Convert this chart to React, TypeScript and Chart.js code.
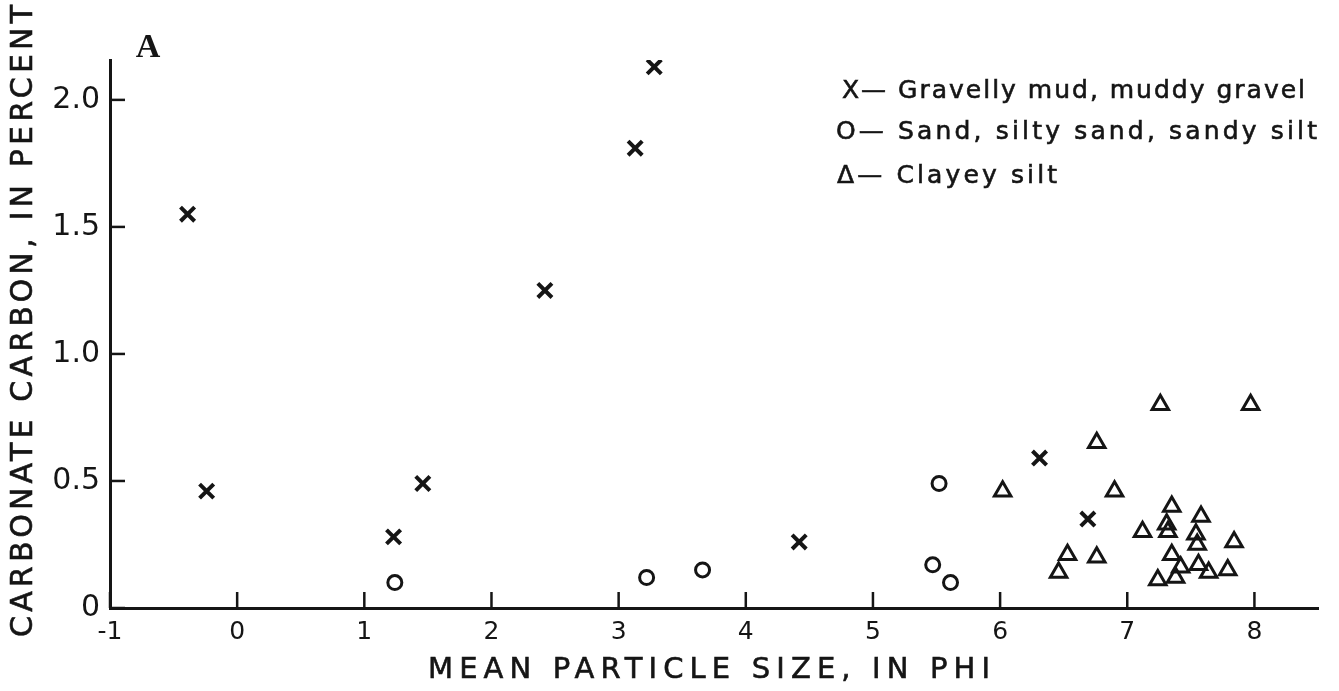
import React, { useEffect, useRef } from "react";
import { Chart, registerables } from "chart.js";

Chart.register(...registerables);

// ---- data ----
const gravelX = [-0.39, -0.24, 1.23, 1.46, 2.42, 3.13, 3.28, 4.42, 6.31, 6.69];
const gravelY = [1.55, 0.46, 0.28, 0.49, 1.25, 1.81, 2.13, 0.26, 0.59, 0.35];

const sandX = [1.24, 3.22, 3.66, 5.47, 5.52, 5.61];
const sandY = [0.1, 0.12, 0.15, 0.17, 0.49, 0.1];

const clayX = [
  7.26, 7.97, 6.76, 6.02, 6.9, 6.53, 6.46, 6.76, 7.12, 7.35, 7.31, 7.32,
  7.58, 7.54, 7.55, 7.84, 7.35, 7.42, 7.56, 7.64, 7.79, 7.24, 7.38,
];
const clayY = [
  0.8, 0.8, 0.65, 0.46, 0.46, 0.21, 0.14, 0.2, 0.3, 0.4, 0.33, 0.3, 0.36,
  0.29, 0.25, 0.26, 0.21, 0.16, 0.17, 0.14, 0.15, 0.11, 0.12,
];

const xTicks = [-1, 0, 1, 2, 3, 4, 5, 6, 7, 8];
const xTickLabels = ["-1", "0", "1", "2", "3", "4", "5", "6", "7", "8"];
const yTicks = [0, 0.5, 1, 1.5, 2];
const yTickLabels = ["0", "0.5", "1.0", "1.5", "2.0"];

const legendLabels = [
  "X\u2014 Gravelly mud, muddy gravel",
  "O\u2014 Sand, silty sand, sandy silt",
  "\u0394\u2014 Clayey silt",
];
const xTitle = "MEAN PARTICLE SIZE, IN PHI";
const yTitle = "CARBONATE CARBON, IN PERCENT";
const panelLabel = "A";

const INK = "#151515";

function fitText(ctx: CanvasRenderingContext2D, text: string, x: number, y: number, width: number) {
  (ctx as any).letterSpacing = "0px";
  const w = ctx.measureText(text).width;
  const ls = (width - w) / Math.max(1, text.length - 1);
  (ctx as any).letterSpacing = `${ls}px`;
  ctx.fillText(text, x, y);
  ctx.strokeText(text, x, y);
  (ctx as any).letterSpacing = "0px";
}

const decor = {
  id: "decor",
  afterDraw(chart: any) {
    const ctx: CanvasRenderingContext2D = chart.ctx;
    const xs = chart.scales.x;
    const ys = chart.scales.y;
    const { left, bottom } = chart.chartArea;
    ctx.save();
    ctx.strokeStyle = INK;
    ctx.lineWidth = 2.5;
    // inward tick marks
    xTicks.forEach((v) => {
      const px = xs.getPixelForValue(v);
      ctx.beginPath();
      ctx.moveTo(px, bottom);
      ctx.lineTo(px, bottom - 16);
      ctx.stroke();
    });
    yTicks.forEach((v) => {
      const py = ys.getPixelForValue(v);
      ctx.beginPath();
      ctx.moveTo(left, py);
      ctx.lineTo(left + 15, py);
      ctx.stroke();
    });

    ctx.fillStyle = INK;
    ctx.lineWidth = 0.6;
    ctx.textAlign = "left";
    ctx.textBaseline = "middle";

    // x axis title
    ctx.font = "29px 'DejaVu Sans'";
    fitText(ctx, xTitle, 428, 670, 562);

    // y axis title (rotated)
    ctx.save();
    ctx.translate(24, 637);
    ctx.rotate(-Math.PI / 2);
    ctx.font = "30px 'DejaVu Sans'";
    fitText(ctx, yTitle, 0, 0, 632);
    ctx.restore();

    // legend
    ctx.font = "25px 'DejaVu Sans'";
    fitText(ctx, legendLabels[0], 842, 91, 463);
    fitText(ctx, legendLabels[1], 836, 132, 481);
    fitText(ctx, legendLabels[2], 837, 176, 220);

    // panel letter
    ctx.font = "bold 34px 'Liberation Serif'";
    ctx.textAlign = "center";
    ctx.fillText(panelLabel, 148, 48);
    ctx.restore();
  },
};

export default function App() {
  const ref = useRef<HTMLCanvasElement | null>(null);

  useEffect(() => {
    document.body.style.margin = "0";
    const canvas = ref.current;
    if (!canvas) return;
    const chart = new Chart(canvas, {
      type: "scatter",
      data: {
        datasets: [
          {
            label: legendLabels[0],
            data: gravelX.map((x, i) => ({ x, y: gravelY[i] })),
            pointStyle: "crossRot",
            pointRadius: 10,
            borderWidth: 4,
            borderColor: INK,
            backgroundColor: INK,
          },
          {
            label: legendLabels[1],
            data: sandX.map((x, i) => ({ x, y: sandY[i] })),
            pointStyle: "circle",
            pointRadius: 7,
            borderWidth: 3,
            borderColor: INK,
            backgroundColor: "rgba(255,255,255,0)",
          },
          {
            label: legendLabels[2],
            data: clayX.map((x, i) => ({ x, y: clayY[i] })),
            pointStyle: "triangle",
            pointRadius: 9.5,
            borderWidth: 3,
            borderColor: INK,
            backgroundColor: "rgba(255,255,255,0)",
          },
        ],
      },
      options: {
        animation: false,
        responsive: false,
        events: [],
        layout: { padding: { left: 8, right: 21, top: 60, bottom: 0 } },
        plugins: {
          legend: { display: false },
          tooltip: { enabled: false },
          title: { display: false },
        },
        scales: {
          x: {
            type: "linear",
            min: -1,
            max: 8.5,
            afterBuildTicks: (s: any) => {
              s.ticks = xTicks.map((v) => ({ value: v }));
            },
            afterFit: (s: any) => {
              s.height = 83;
            },
            grid: { display: false, drawTicks: false },
            border: { display: true, color: INK, width: 3 },
            ticks: {
              autoSkip: false,
              maxRotation: 0,
              padding: 9,
              color: INK,
              font: { family: "'DejaVu Sans'", size: 25 },
              callback: (v: any) => {
                const i = xTicks.indexOf(Number(v));
                return i >= 0 ? xTickLabels[i] : "";
              },
            },
          },
          y: {
            type: "linear",
            min: 0,
            max: 2.157,
            afterBuildTicks: (s: any) => {
              s.ticks = yTicks.map((v) => ({ value: v }));
            },
            afterFit: (s: any) => {
              s.width = 102;
            },
            grid: { display: false, drawTicks: false },
            border: { display: true, color: INK, width: 3 },
            ticks: {
              autoSkip: false,
              padding: 10,
              color: INK,
              font: { family: "'DejaVu Sans'", size: 30 },
              callback: (v: any) => {
                const i = yTicks.indexOf(Number(v));
                return i >= 0 ? yTickLabels[i] : "";
              },
            },
          },
        },
      },
      plugins: [decor],
    } as any);
    return () => chart.destroy();
  }, []);

  return (
    <div style={{ width: 1339, height: 691, background: "#fff" }}>
      <canvas ref={ref} width={1339} height={691} style={{ display: "block" }} />
    </div>
  );
}
